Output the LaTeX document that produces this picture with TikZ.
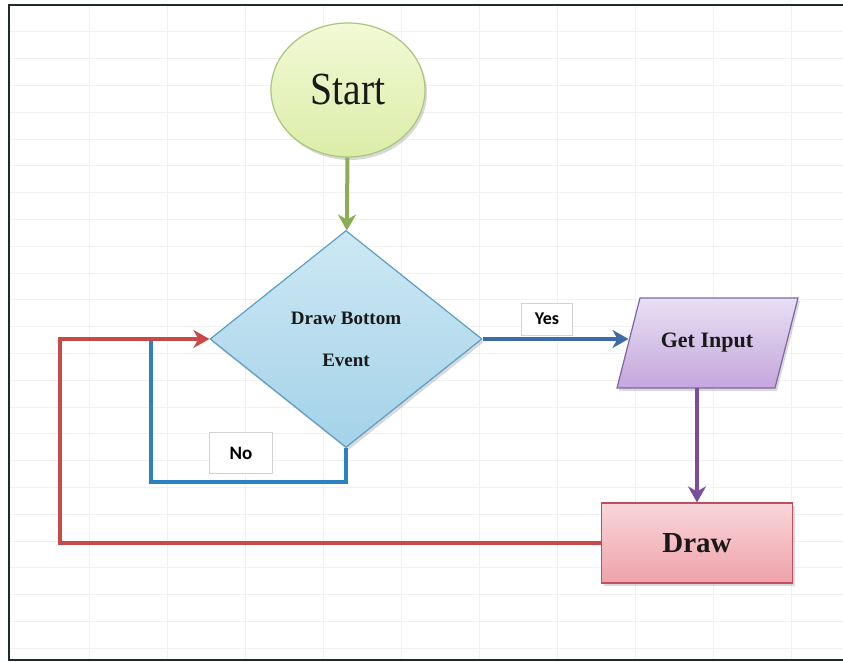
\documentclass[tikz,border=0pt]{standalone}
\usepackage{fontspec}
\setmainfont{Liberation Serif}
\newfontfamily\labelfont{Carlito}
\newfontfamily\startfont[FakeStretch=0.86]{Liberation Serif}
\usetikzlibrary{shapes.geometric,arrows.meta,shadows}

\definecolor{startfillA}{HTML}{F2F9D6}
\definecolor{startfillB}{HTML}{DCEDA8}
\definecolor{startline}{HTML}{A9C77A}
\definecolor{greenlink}{HTML}{8BAE55}
\definecolor{decidefillA}{HTML}{CDE8F4}
\definecolor{decidefillB}{HTML}{A4D2E8}
\definecolor{decideline}{HTML}{5B9EC6}
\definecolor{yeslink}{HTML}{3C6CA8}
\definecolor{nolink}{HTML}{2C82C0}
\definecolor{inputfillA}{HTML}{E8E0F4}
\definecolor{inputfillB}{HTML}{C4A6DC}
\definecolor{inputline}{HTML}{7E66A6}
\definecolor{purplelink}{HTML}{7A4E9C}
\definecolor{drawfillA}{HTML}{F9D6DA}
\definecolor{drawfillB}{HTML}{EFA2AA}
\definecolor{drawline}{HTML}{C14E5C}
\definecolor{redlink}{HTML}{C94848}
\definecolor{frameline}{HTML}{1E2A28}

\begin{document}
\begin{tikzpicture}[x=0.5pt, y=-0.5pt,
  shape box/.style={draw, line width=0.6pt, inner sep=0pt, text=black!90,
    drop shadow={shadow xshift=1pt, shadow yshift=-1.5pt, opacity=0.3}},
  tag/.style={draw=gray!35, fill=white, inner sep=0pt,
    font=\labelfont\bfseries\fontsize{9}{10}\selectfont},
  link/.style={line width=2pt, -{Stealth[length=8pt,width=9pt,inset=2.5pt]}},
  gridline/.style={gray!11, line width=0.4pt}]
  \useasboundingbox (0,0) rectangle (843,662);
  % Grid
  \foreach \gx in {89,167,...,843}
    \draw[gridline] (\gx,5) -- (\gx,660);
  \foreach \gy in {31.8,58.6,...,650}
    \draw[gridline] (9,\gy) -- (843,\gy);
  \draw[frameline, line width=1pt] (9,5) rectangle (852,660);
  % Nodes
  \node (start) [shape box, ellipse, draw=startline, top color=startfillA, bottom color=startfillB,
    minimum width=77pt, minimum height=67pt, font=\startfont\fontsize{23}{24}\selectfont] at (348,90) {Start};
  \node (decide) [shape box, diamond, draw=decideline, top color=decidefillA, bottom color=decidefillB,
    minimum width=136pt, minimum height=108.5pt, align=center,
    font=\bfseries\fontsize{9.5}{21}\selectfont] at (346,339) {Draw Bottom\\Event};
  % parallelogram drawn by hand, text node on top
  \path[shape box, draw=inputline, top color=inputfillA, bottom color=inputfillB]
    (617,388) -- (775,388) -- (798,298) -- (640,298) -- cycle;
  \node (input) [rectangle, inner sep=0pt, minimum width=90.5pt, minimum height=45pt,
    text=black!90, font=\bfseries\fontsize{11}{12}\selectfont] at (707,343) {Get Input};
  \node (drawbox) [shape box, rectangle, draw=drawline, top color=drawfillA, bottom color=drawfillB,
    minimum width=95.5pt, minimum height=40pt, font=\bfseries\fontsize{14.5}{16}\selectfont] at (697,543) {Draw};
  \node (yes) [tag, minimum width=25.5pt, minimum height=16pt] at (547,319) {Yes};
  \node (no) [tag, minimum width=31.5pt, minimum height=20.5pt, font=\labelfont\bfseries\fontsize{9.5}{10}\selectfont] at (241,453) {No};
  \coordinate (inputleft) at (628.5,340);
  \coordinate (loopin) at (151,340);
  \coordinate (back) at (60,543);
  % Arrow
  \draw[link, greenlink] (start) -- (decide);
  \draw[link, yeslink] (decide.east) -- (decide.east -| inputleft);
  \draw[link, purplelink] (drawbox.north |- input.south) -- (drawbox.north);
  \draw[line width=2pt, nolink] (decide.south) -- ++(0,34) -| (loopin);
  \draw[link, redlink] (drawbox.west) -- (back) |- (decide.west);
\end{tikzpicture}
\end{document}
